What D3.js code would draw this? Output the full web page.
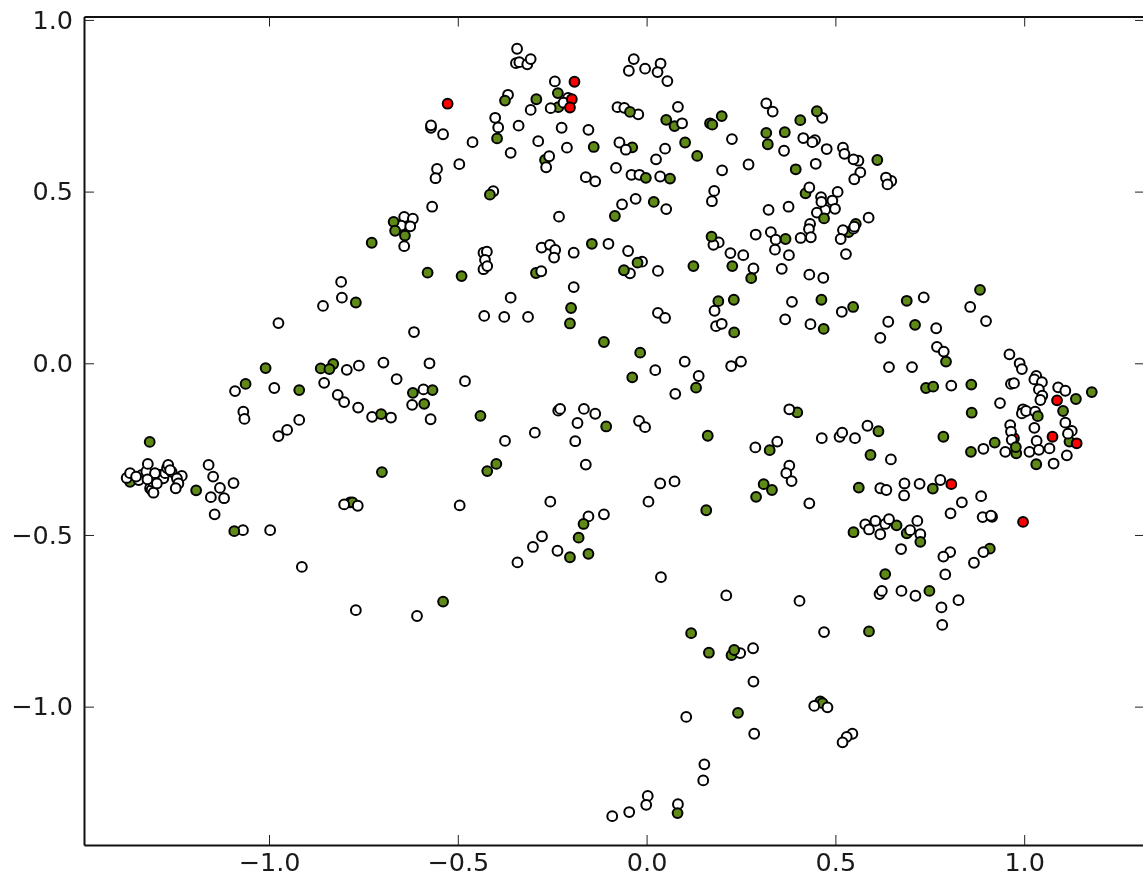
<!DOCTYPE html>
<html>
<head>
<meta charset="utf-8">
<script src="https://cdn.jsdelivr.net/npm/d3@7"></script>
<style>
  html, body { margin: 0; padding: 0; background: #fff; overflow: hidden; }
  svg { display: block; filter: blur(0.45px); }
  .tick text { font-family: "DejaVu Sans", sans-serif; font-size: 25.5px; fill: #1a1a1a; }
</style>
</head>
<body>
<div id="container"></div>
<script>
// tick labels
const xTicks = [-1.0, -0.5, 0.0, 0.5, 1.0];
const yTicks = [1.0, 0.5, 0.0, -0.5, -1.0];

// points are grouped by how they stack: red/green under the white ones, then the rest on top
const redUnder = [[0.973,-0.218]];

const greenUnder = [
  [-1.368,-0.345],[-1.283,-0.325],[-0.785,-0.405],[-0.779,-0.405],[-0.293,0.263],[-0.269,0.592],
  [-0.038,0.629],[0.074,0.691],[0.168,0.699],[0.225,-0.850],[0.399,-0.143],[0.421,0.495],
  [0.460,-0.985],[0.466,-0.990],[0.535,0.382],[0.554,0.406],[0.662,-0.472],[0.689,-0.495],[0.909,-0.540],
  [0.979,-0.262],[1.120,-0.228],[-0.234,0.746],[0.614,-0.198]
];

const whitePoints = [
  // left cluster
  [-1.377,-0.334],[-1.368,-0.320],[-1.337,-0.325],[-1.315,-0.364],[-1.311,-0.369],[-1.306,-0.377],
  [-1.308,-0.345],[-1.289,-0.325],[-1.280,-0.335],[-1.275,-0.320],[-1.258,-0.316],[-1.231,-0.328],
  [-1.244,-0.335],[-1.240,-0.350],[-1.345,-0.340],[-1.325,-0.315],[-1.270,-0.305],
  [-1.321,-0.293],[-1.267,-0.296],[-1.262,-0.311],[-1.302,-0.320],[-1.352,-0.330],[-1.322,-0.338],
  [-1.297,-0.350],[-1.247,-0.364],
  [-1.160,-0.296],[-1.148,-0.330],[-1.130,-0.363],[-1.094,-0.349],[-1.154,-0.390],[-1.119,-0.393],
  [-1.144,-0.440],[-1.069,-0.486],[-0.997,-0.486],[-0.913,-0.593],
  // upper left
  [-0.571,0.686],[-0.571,0.693],[-0.539,0.667],[-0.496,0.580],[-0.555,0.566],[-0.559,0.539],
  [-0.568,0.456],[-0.642,0.426],[-0.619,0.421],[-0.650,0.401],[-0.626,0.399],[-0.642,0.341],
  [-0.809,0.237],[-0.807,0.191],[-0.857,0.167],[-0.975,0.117],[-0.616,0.091],
  // top
  [-0.343,0.916],[-0.346,0.874],[-0.337,0.877],[-0.316,0.871],[-0.307,0.886],[-0.243,0.821],
  [-0.367,0.782],[-0.307,0.738],[-0.254,0.743],[-0.208,0.773],[-0.220,0.759],[-0.401,0.715],
  [-0.393,0.687],[-0.339,0.692],[-0.225,0.686],[-0.154,0.680],[-0.461,0.644],[-0.287,0.647],
  [-0.211,0.628],[-0.360,0.613],[-0.258,0.603],[-0.266,0.571],[-0.161,0.542],[-0.136,0.530],
  [-0.406,0.501],[-0.232,0.427],[-0.077,0.746],[-0.059,0.744],[-0.022,0.725],[-0.034,0.886],
  [-0.047,0.852],[-0.004,0.858],[0.037,0.873],[0.029,0.848],[0.055,0.822],[0.083,0.747],
  [0.094,0.699],[-0.072,0.643],[-0.055,0.622],[0.049,0.625],[0.025,0.594],[-0.081,0.569],
  [-0.040,0.549],[-0.019,0.549],[0.036,0.544],[-0.065,0.463],[-0.029,0.479],[0.052,0.449],
  [-0.278,0.337],[-0.256,0.345],[-0.242,0.330],[-0.245,0.308],[-0.193,0.322],[-0.101,0.348],
  [-0.049,0.327],[-0.012,0.296],[0.030,0.269],[-0.044,0.262],[-0.432,0.322],[-0.423,0.325],
  [-0.428,0.301],[-0.432,0.274],[-0.422,0.283],[-0.279,0.268],[-0.193,0.222],[-0.360,0.191],
  [-0.430,0.138],[-0.377,0.135],[-0.314,0.135],[0.030,0.147],[0.049,0.132],
  // upper right
  [0.317,0.757],[0.334,0.733],[0.465,0.715],[0.226,0.653],[0.415,0.656],[0.446,0.650],[0.439,0.644],
  [0.477,0.624],[0.520,0.628],[0.524,0.610],[0.561,0.590],[0.548,0.594],[0.566,0.556],[0.550,0.536],
  [0.364,0.619],[0.448,0.581],[0.270,0.579],[0.200,0.562],[0.648,0.531],[0.634,0.541],[0.638,0.521],
  [0.431,0.512],[0.179,0.502],[0.173,0.472],[0.462,0.484],[0.506,0.499],[0.492,0.474],[0.499,0.450],
  [0.473,0.447],[0.463,0.470],[0.451,0.439],[0.376,0.456],[0.323,0.447],[0.588,0.424],[0.433,0.406],
  [0.430,0.391],[0.408,0.365],[0.435,0.367],[0.520,0.388],[0.548,0.392],[0.550,0.398],[0.514,0.362],
  [0.528,0.318],[0.289,0.375],[0.329,0.382],[0.342,0.360],[0.340,0.331],[0.377,0.315],[0.191,0.352],
  [0.177,0.345],[0.222,0.321],[0.256,0.315],[0.283,0.276],[0.358,0.275],[0.431,0.258],[0.468,0.249],
  [0.385,0.179],[0.180,0.153],[0.367,0.128],[0.184,0.108],[0.199,0.115],[0.434,0.114],[0.517,0.150],
  [0.734,0.192],[0.640,0.121],[0.767,0.102],[0.619,0.074],[0.769,0.048],[0.787,0.034],[0.642,-0.011],
  [0.703,-0.011],[0.857,0.164],[0.899,0.123],
  // middle left
  [-1.090,-0.081],[-0.986,-0.072],[-0.854,-0.057],[-0.818,-0.092],[-1.068,-0.141],[-1.065,-0.162],
  [-0.920,-0.165],[-0.952,-0.194],[-0.975,-0.212],[-0.794,-0.019],[-0.762,-0.007],[-0.697,0.002],
  [-0.575,0.000],[-0.662,-0.046],[-0.481,-0.052],[-0.801,-0.113],[-0.764,-0.129],[-0.727,-0.156],
  [-0.677,-0.158],[-0.591,-0.076],[-0.621,-0.121],[-0.572,-0.163],[-0.234,-0.138],[-0.229,-0.133],
  [-0.166,-0.133],[-0.136,-0.147],[-0.183,-0.174],[-0.296,-0.202],[-0.375,-0.226],[-0.189,-0.227],
  [-0.161,-0.295],[-0.255,-0.403],[-0.495,-0.414],[-0.801,-0.411],[-0.765,-0.415],[-0.154,-0.446],
  [-0.113,-0.440],[-0.277,-0.504],[-0.301,-0.535],[-0.236,-0.546],[-0.342,-0.580],[-0.770,-0.719],
  [-0.608,-0.736],[0.038,-0.623],
  // middle
  [0.023,-0.020],[0.101,0.005],[0.138,-0.037],[0.076,-0.089],[0.224,-0.008],[0.250,0.005],
  [-0.020,-0.168],[-0.004,-0.186],[0.378,-0.134],[0.288,-0.245],[0.346,-0.228],[0.464,-0.218],
  [0.511,-0.214],[0.518,-0.202],[0.552,-0.218],[0.378,-0.298],[0.370,-0.320],[0.384,-0.343],
  [0.431,-0.408],[0.036,-0.350],[0.074,-0.344],[0.005,-0.403],[0.211,-0.676],[0.405,-0.692],
  // lower right
  [0.585,-0.182],[0.892,-0.249],[0.647,-0.280],[0.619,-0.364],[0.635,-0.369],[0.683,-0.350],
  [0.682,-0.385],[0.723,-0.351],[0.778,-0.340],[0.835,-0.405],[0.805,-0.437],[0.886,-0.387],
  [0.915,-0.447],[0.890,-0.448],[0.912,-0.444],[0.579,-0.469],[0.606,-0.459],[0.632,-0.468],
  [0.642,-0.454],[0.589,-0.484],[0.619,-0.498],[0.698,-0.486],[0.725,-0.498],[0.717,-0.459],
  [0.674,-0.541],[0.804,-0.550],[0.786,-0.563],[0.892,-0.550],[0.867,-0.581],[0.791,-0.615],
  [0.617,-0.672],[0.623,-0.663],[0.675,-0.663],[0.712,-0.677],[0.826,-0.690],[0.781,-0.711],
  [0.783,-0.762],[0.470,-0.783],
  // right side
  [0.961,0.026],[0.988,0.000],[0.994,-0.017],[0.807,-0.065],[0.965,-0.060],[0.973,-0.058],
  [1.032,-0.037],[1.027,-0.047],[1.047,-0.055],[1.039,-0.076],[1.048,-0.094],[1.043,-0.107],
  [1.090,-0.070],[1.109,-0.080],[0.936,-0.116],[0.997,-0.134],[0.994,-0.146],[1.005,-0.139],
  [1.029,-0.141],[1.027,-0.188],[1.126,-0.197],[1.109,-0.173],[1.116,-0.205],[0.963,-0.180],
  [0.965,-0.199],[0.967,-0.223],[0.950,-0.258],[1.014,-0.258],[1.033,-0.226],[1.039,-0.252],
  [1.067,-0.248],[1.113,-0.268],[1.078,-0.292],
  // bottom
  [0.282,-0.830],[0.248,-0.844],[0.283,-0.927],[0.105,-1.030],[0.285,-1.079],[0.444,-0.998],
  [0.479,-1.002],[0.545,-1.079],[0.530,-1.088],[0.519,-1.104],[0.153,-1.168],[0.150,-1.215],
  [0.003,-1.260],[-0.001,-1.286],[-0.046,-1.307],[-0.091,-1.319],[0.083,-1.284]
];

const greenOver = [
  [-0.670,0.412],[-0.666,0.386],[-0.640,0.372],[-0.728,0.351],[-0.580,0.264],[-0.770,0.177],
  [-0.490,0.254],[-0.375,0.765],[-0.292,0.769],[-0.235,0.787],[-0.044,0.732],[0.052,0.709],
  [-0.396,0.655],[-0.140,0.630],[0.102,0.643],[0.134,0.604],[-0.002,0.540],[0.062,0.538],
  [-0.415,0.491],[0.019,0.470],[-0.084,0.429],[0.174,0.695],[0.199,0.720],[0.172,0.369],
  [-0.145,0.348],[-0.024,0.293],[-0.060,0.271],[0.124,0.283],[0.451,0.734],[0.407,0.708],
  [0.317,0.671],[0.366,0.673],[0.321,0.638],[0.611,0.592],[0.395,0.565],[0.470,0.422],
  [0.368,0.362],[0.227,0.283],[0.277,0.248],[0.190,0.181],[0.231,0.185],[0.463,0.185],
  [0.547,0.164],[0.689,0.182],[0.711,0.112],[0.232,0.090],[0.469,0.100],[-0.200,0.161],
  [-0.203,0.116],[-0.113,0.062],[-0.017,0.031],[-0.038,-0.041],[0.131,-0.071],[0.793,0.005],
  [0.860,-0.062],[0.740,-0.072],[0.759,-0.068],[0.883,0.214],
  [-1.009,-0.014],[-1.062,-0.060],[-0.920,-0.078],[-0.863,-0.015],[-0.830,-0.002],[-0.840,-0.017],
  [-1.316,-0.229],[-1.193,-0.370],[-1.092,-0.489],[-0.619,-0.086],[-0.567,-0.078],[-0.589,-0.118],
  [-0.703,-0.148],[-0.440,-0.153],[-0.107,-0.184],[-0.398,-0.293],[-0.422,-0.314],[-0.701,-0.317],
  [-0.167,-0.468],[-0.180,-0.508],[-0.203,-0.565],[-0.154,-0.555],[-0.539,-0.694],
  [0.162,-0.211],[0.326,-0.253],[0.310,-0.352],[0.332,-0.369],[0.290,-0.389],[0.158,-0.428],
  [0.861,-0.144],[0.786,-0.214],[0.922,-0.231],[0.859,-0.258],[0.593,-0.267],[0.562,-0.362],
  [0.758,-0.365],[0.548,-0.492],[0.725,-0.520],[0.632,-0.614],[0.749,-0.663],[0.589,-0.781],
  [1.179,-0.084],[1.137,-0.104],[1.103,-0.139],[1.036,-0.154],[0.978,-0.244],[1.032,-0.294],
  [0.118,-0.786],[0.165,-0.843],[0.232,-0.835],[0.242,-1.018],[0.082,-1.310]
];

const redOver = [
  [-0.527,0.756],[-0.191,0.820],[-0.198,0.769],[-0.203,0.745],[1.087,-0.108],[1.075,-0.214],
  [1.139,-0.233],[0.807,-0.352],[0.997,-0.462]
];

const w = 1143;
const h = 886;

const xScale = d3.scaleLinear().domain([-1.49, 1.32]).range([84, 1145]);
const yScale = d3.scaleLinear().domain([1.01, -1.403]).range([16.5, 845]);

const svg = d3
  .select('#container')
  .append('svg')
  .attr('width', w)
  .attr('height', h);

const layers = [
  { pts: redUnder, fill: '#ff0000' },
  { pts: greenUnder, fill: '#5f8a18' },
  { pts: whitePoints, fill: '#ffffff' },
  { pts: greenOver, fill: '#5f8a18' },
  { pts: redOver, fill: '#ff0000' }
];

layers.forEach(layer => {
  svg
    .append('g')
    .selectAll('circle')
    .data(layer.pts)
    .enter()
    .append('circle')
    .attr('cx', d => xScale(d[0]))
    .attr('cy', d => yScale(d[1]))
    .attr('r', 4.9)
    .attr('fill', layer.fill)
    .attr('stroke', '#000')
    .attr('stroke-width', 2);
});

// inward ticks on all four sides, labels only bottom and left
const tick = 10;
const fmt = d3.format('.1f');

const addAxis = (axis, tx, ty) =>
  svg
    .append('g')
    .attr('transform', `translate(${tx},${ty})`)
    .call(axis)
    .call(g => g.selectAll('.tick line').attr('stroke', '#222').attr('stroke-width', 1))
    .call(g => g.select('.domain').attr('stroke', '#111').attr('stroke-width', 2));

addAxis(
  d3.axisBottom(xScale).tickValues(xTicks).tickSizeInner(-tick).tickSizeOuter(0).tickPadding(8).tickFormat(fmt),
  0, 845
);
addAxis(
  d3.axisLeft(yScale).tickValues(yTicks).tickSizeInner(-tick).tickSizeOuter(0).tickPadding(11).tickFormat(fmt),
  84, 0
);
addAxis(
  d3.axisTop(xScale).tickValues(xTicks).tickSizeInner(-tick).tickSizeOuter(0).tickFormat(''),
  0, 16.5
);
addAxis(
  d3.axisRight(yScale).tickValues(yTicks).tickSizeInner(-tick).tickSizeOuter(0).tickFormat(''),
  1145, 0
);
</script>
</body>
</html>
